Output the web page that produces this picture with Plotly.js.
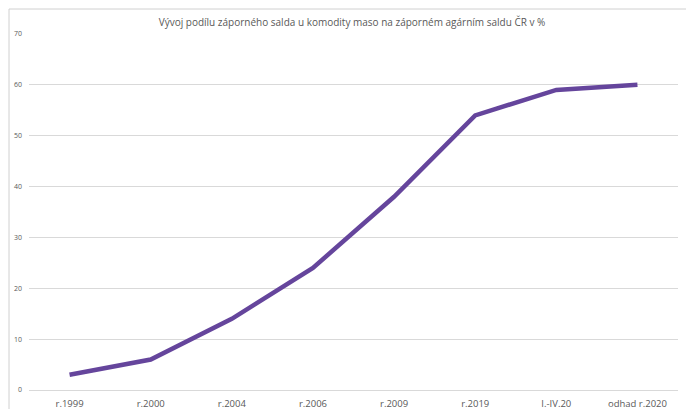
<!DOCTYPE html>
<html>
<head>
<meta charset="utf-8">
<script src="https://cdn.plot.ly/plotly-3.0.1.min.js"></script>
<style>html,body{margin:0;padding:0;background:#fff;}#chart{width:686px;height:409px;}</style>
</head>
<body>
<div id="chart"></div>
<script>
const categories = ["r.1999", "r.2000", "r.2004", "r.2006", "r.2009", "r.2019", "I.-IV.20", "odhad r.2020"];
const shareValues = [3, 6, 14, 24, 38, 54, 59, 60];
const yTicks = [0, 10, 20, 30, 40, 50, 60, 70];

const trace = {
  x: categories,
  y: shareValues,
  type: "scatter",
  mode: "lines",
  line: {color: "#65459c", width: 4.5},
  hoverinfo: "x+y"
};

const layout = {
  width: 686,
  height: 409,
  margin: {l: 29, r: 8, t: 34, b: 19},
  paper_bgcolor: "#ffffff",
  plot_bgcolor: "#ffffff",
  showlegend: false,
  font: {family: "Open Sans, Liberation Sans, sans-serif", color: "#595959"},
  title: {
    text: "Vývoj podílu záporného salda u komodity maso na záporném agárním saldu ČR v %",
    font: {size: 10, color: "#595959"},
    xref: "container",
    x: 352 / 686, xanchor: "center",
    y: 1 - 22 / 409, yanchor: "middle"
  },
  xaxis: {
    type: "category",
    showgrid: false,
    zeroline: false,
    showline: false,
    ticks: "",
    ticklabelstandoff: 6,
    automargin: false,
    tickfont: {size: 9.5, color: "#595959"},
    range: [-0.5, 7.5],
    fixedrange: true
  },
  yaxis: {
    range: [0, 70],
    tickvals: yTicks,
    ticktext: yTicks.map(String),
    showgrid: true,
    gridcolor: "#d9d9d9",
    gridwidth: 1,
    zeroline: true,
    zerolinecolor: "#d9d9d9",
    zerolinewidth: 1,
    showline: false,
    ticks: "",
    ticklabelstandoff: 6,
    automargin: false,
    tickfont: {size: 7, color: "#595959"},
    fixedrange: true
  },
  shapes: [{
    type: "rect", xref: "paper", yref: "paper",
    x0: (9 - 29) / 649, x1: 1.05,
    y0: -0.2, y1: 1 + (34 - 9) / 356,
    line: {color: "#d0d0d0", width: 1},
    fillcolor: "rgba(0,0,0,0)",
    layer: "below"
  }]
};

Plotly.newPlot("chart", [trace], layout, {displayModeBar: false, staticPlot: true});
</script>
</body>
</html>
